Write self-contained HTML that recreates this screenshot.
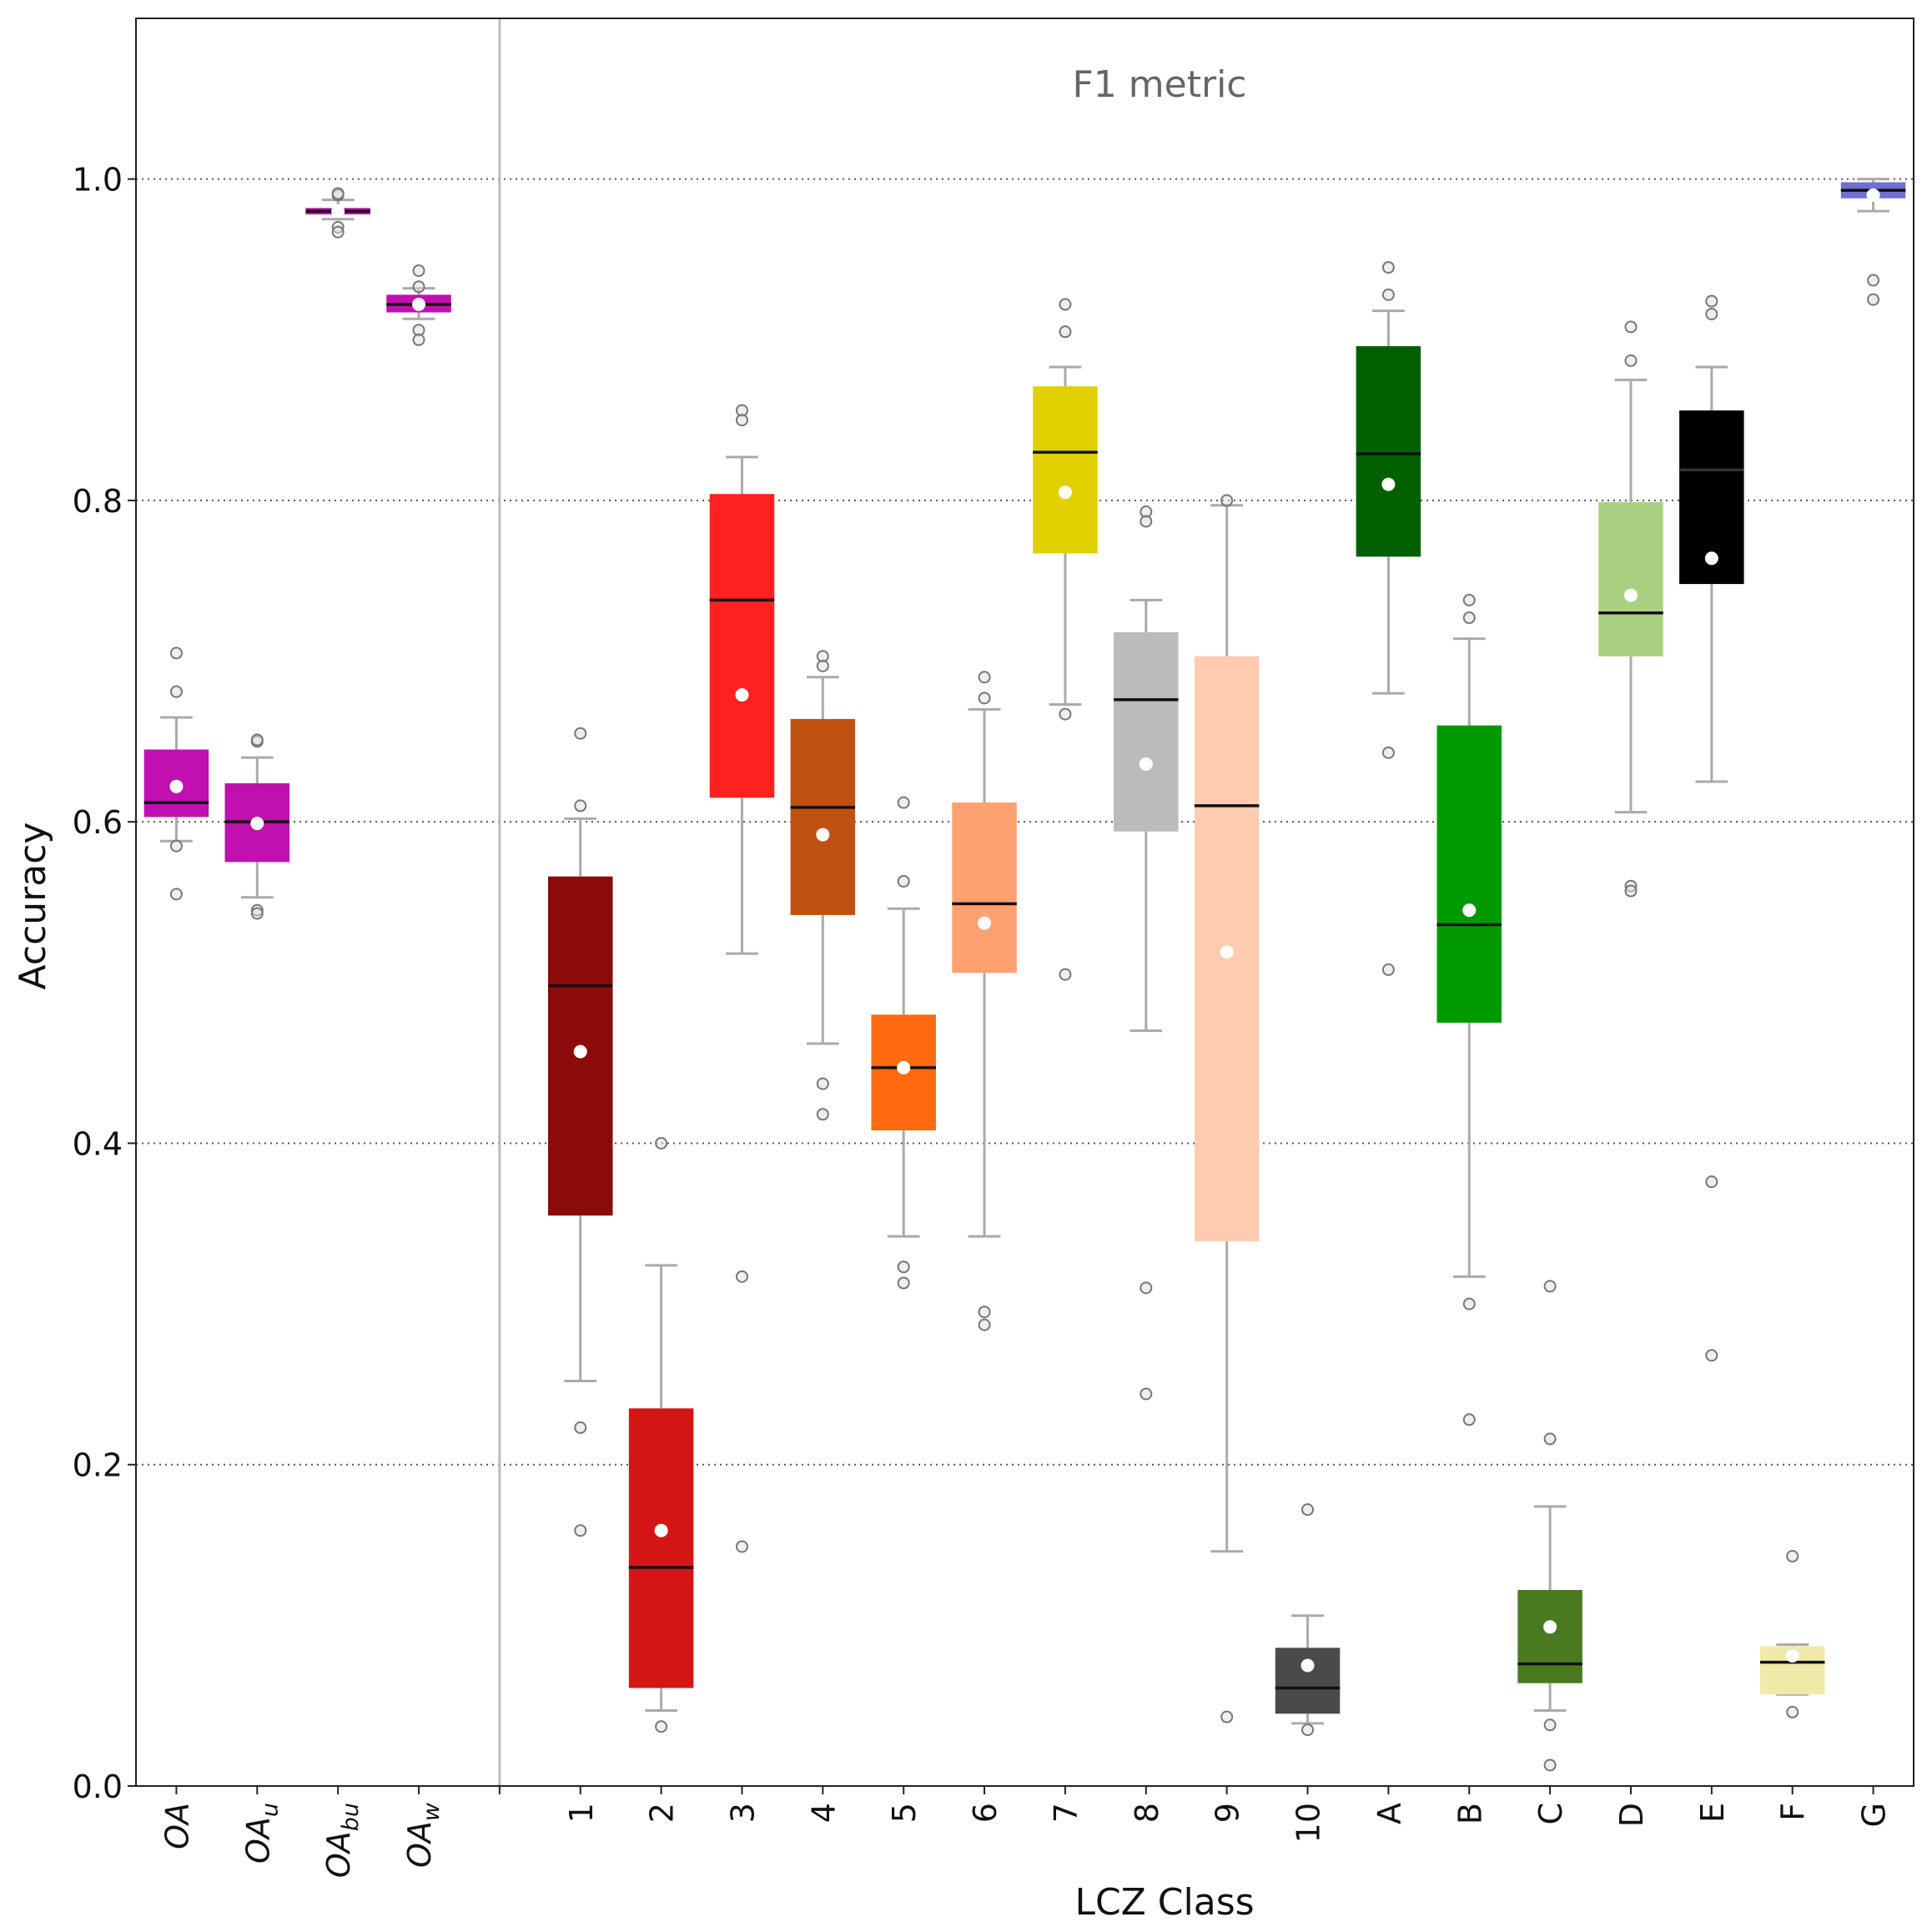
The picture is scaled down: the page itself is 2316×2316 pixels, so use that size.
<!DOCTYPE html>
<html><head><meta charset="utf-8"><style>
html,body{margin:0;padding:0;background:#fff;}
svg{display:block;font-family:"DejaVu Sans","Liberation Sans",sans-serif;}
</style></head><body>
<svg id="chart" width="2316" height="2316" viewBox="0 0 2316 2316" xmlns="http://www.w3.org/2000/svg">
<g id="grid"></g>
<g id="boxes"></g>
<rect x="163" y="22" width="2131" height="2119" fill="none" stroke="#222" stroke-width="2"/>
<g id="axes"></g>
<text x="1390" y="116" font-size="44" fill="#666" text-anchor="middle">F1 metric</text>
<text transform="translate(54,1086) rotate(-90)" font-size="44" fill="#111" text-anchor="middle">Accuracy</text>
<text x="1396" y="2295" font-size="44" fill="#111" text-anchor="middle">LCZ Class</text>
</svg>
<script>
const categories = ["OA","OAu","OAbu","OAw","","1","2","3","4","5","6","7","8","9","10","A","B","C","D","E","F","G"];
const colors = ["#c010b0","#c010b0","#c010b0","#c010b0",null,"#8b0a0a","#d41515","#ff2020","#c05010","#ff6a10","#ffa070","#e0d000","#bbbbbb","#ffcbb0","#4a4a4a","#006000","#009a00","#4a7a20","#a8d080","#000000","#f0eaa8","#7070d0"];
const q1 = [0.603,0.575,0.978,0.917,null,0.355,0.061,0.615,0.542,0.408,0.506,0.767,0.594,0.339,0.045,0.765,0.475,0.064,0.703,0.748,0.057,0.988];
const q3 = [0.645,0.624,0.982,0.928,null,0.566,0.235,0.804,0.664,0.480,0.612,0.871,0.718,0.703,0.086,0.896,0.660,0.122,0.799,0.856,0.087,0.998];
const medians = [0.612,0.600,0.980,0.922,null,0.498,0.136,0.738,0.609,0.447,0.549,0.830,0.676,0.610,0.061,0.829,0.536,0.076,0.730,0.819,0.077,0.993];
const means = [0.622,0.599,0.980,0.922,null,0.457,0.159,0.679,0.592,0.447,0.537,0.805,0.636,0.519,0.075,0.810,0.545,0.099,0.741,0.764,0.081,0.990];
const whiskLo = [0.588,0.553,0.975,0.913,null,0.252,0.047,0.518,0.462,0.342,0.342,0.673,0.470,0.146,0.039,0.680,0.317,0.047,0.606,0.625,0.057,0.980];
const whiskHi = [0.665,0.640,0.987,0.932,null,0.602,0.324,0.827,0.690,0.546,0.670,0.883,0.738,0.797,0.106,0.918,0.714,0.174,0.875,0.883,0.088,1.000];
const outliers = [[0.705,0.681,0.585,0.555],[0.650,0.651,0.545,0.543],[0.990,0.991,0.970,0.967],[0.943,0.933,0.906,0.900],[],[0.655,0.610,0.223,0.159],[0.400,0.037],[0.856,0.850,0.317,0.149],[0.703,0.697,0.437,0.418],[0.612,0.563,0.323,0.313],[0.690,0.677,0.295,0.287],[0.922,0.905,0.667,0.505],[0.793,0.787,0.310,0.244],[0.800,0.043],[0.172,0.035],[0.945,0.928,0.643,0.508],[0.738,0.727,0.300,0.228],[0.311,0.216,0.038,0.013],[0.908,0.887,0.560,0.557],[0.924,0.916,0.376,0.268],[0.143,0.046],[0.937,0.925]];
const yTicks = [0.0,0.2,0.4,0.6,0.8,1.0];
const yTickLabels = ["0.0","0.2","0.4","0.6","0.8","1.0"];

const L=163,R=2294,T=22,B=2141,YMAX=1.1;
const unit=(R-L)/22;
const x=i=>L+unit*(i+0.5);
const y=v=>B-(v/YMAX)*(B-T);
const NS="http://www.w3.org/2000/svg";
function mk(tag,attrs,parent){const e=document.createElementNS(NS,tag);for(const k in attrs)e.setAttribute(k,attrs[k]);parent.appendChild(e);return e;}
const grid=document.getElementById('grid'),boxes=document.getElementById('boxes'),axes=document.getElementById('axes');

yTicks.forEach((t,i)=>{
  const gl=mk('line',{x1:L,x2:R,y1:y(t),y2:y(t),stroke:'#555','stroke-width':2,'stroke-dasharray':'2,5'},grid);
  
  
  const tk=mk('line',{x1:L-10,x2:L,y1:y(t),y2:y(t),stroke:'#222','stroke-width':2},axes);
  
  
  const tl=mk('text',{x:L-16,y:y(t)+14,'font-size':38,'text-anchor':'end',fill:'#111'},axes);
  tl.textContent=yTickLabels[i];
  
  
});
const sep=mk('line',{x1:x(4),x2:x(4),y1:T,y2:B,stroke:'#bbb','stroke-width':3},grid);



const bw=unit*0.8, cw=unit*0.4;
categories.forEach((c,i)=>{
  const tk=mk('line',{x1:x(i),x2:x(i),y1:B,y2:B+10,stroke:'#222','stroke-width':2},axes);
  
  
  if(c!==''){
    const t=mk('text',{transform:`translate(${x(i)+14},${B+20}) rotate(-90)`,'font-size':38,'text-anchor':'end',fill:'#111'},axes);
    
    
    if(c.startsWith('OA')){
      const a=mk('tspan',{'font-style':'italic'},t);a.textContent='OA';
      if(c.length>2){const s=mk('tspan',{'font-style':'italic','font-size':27,dy:10},t);s.textContent=c.slice(2);}
    } else t.textContent=c;
  }
  if(q1[i]===null) return;
  const g=mk('g',{},boxes);
  
  
  const cx=x(i);
  mk('line',{x1:cx,x2:cx,y1:y(whiskHi[i]),y2:y(q3[i]),stroke:'#aaa','stroke-width':3},g);
  mk('line',{x1:cx,x2:cx,y1:y(q1[i]),y2:y(whiskLo[i]),stroke:'#aaa','stroke-width':3},g);
  mk('line',{x1:cx-cw/2,x2:cx+cw/2,y1:y(whiskHi[i]),y2:y(whiskHi[i]),stroke:'#aaa','stroke-width':3},g);
  mk('line',{x1:cx-cw/2,x2:cx+cw/2,y1:y(whiskLo[i]),y2:y(whiskLo[i]),stroke:'#aaa','stroke-width':3},g);
  mk('rect',{x:cx-bw/2,y:y(q3[i]),width:bw,height:Math.max(3,y(q1[i])-y(q3[i])),fill:colors[i]},g);
  mk('line',{x1:cx-bw/2,x2:cx+bw/2,y1:y(medians[i]),y2:y(medians[i]),stroke:colors[i]==='#000000'?'#333':'#111','stroke-width':3.5},g);
  outliers[i].forEach(o=>{
    const p=mk('circle',{cx:cx,cy:y(o),r:6.5,fill:'#ddd','fill-opacity':0.5,stroke:'#777','stroke-width':2},g);
    
    
  });
  const m=mk('circle',{cx:cx,cy:y(means[i]),r:8,fill:'#fff'},g);
  
  
});
</script>
</body></html>
